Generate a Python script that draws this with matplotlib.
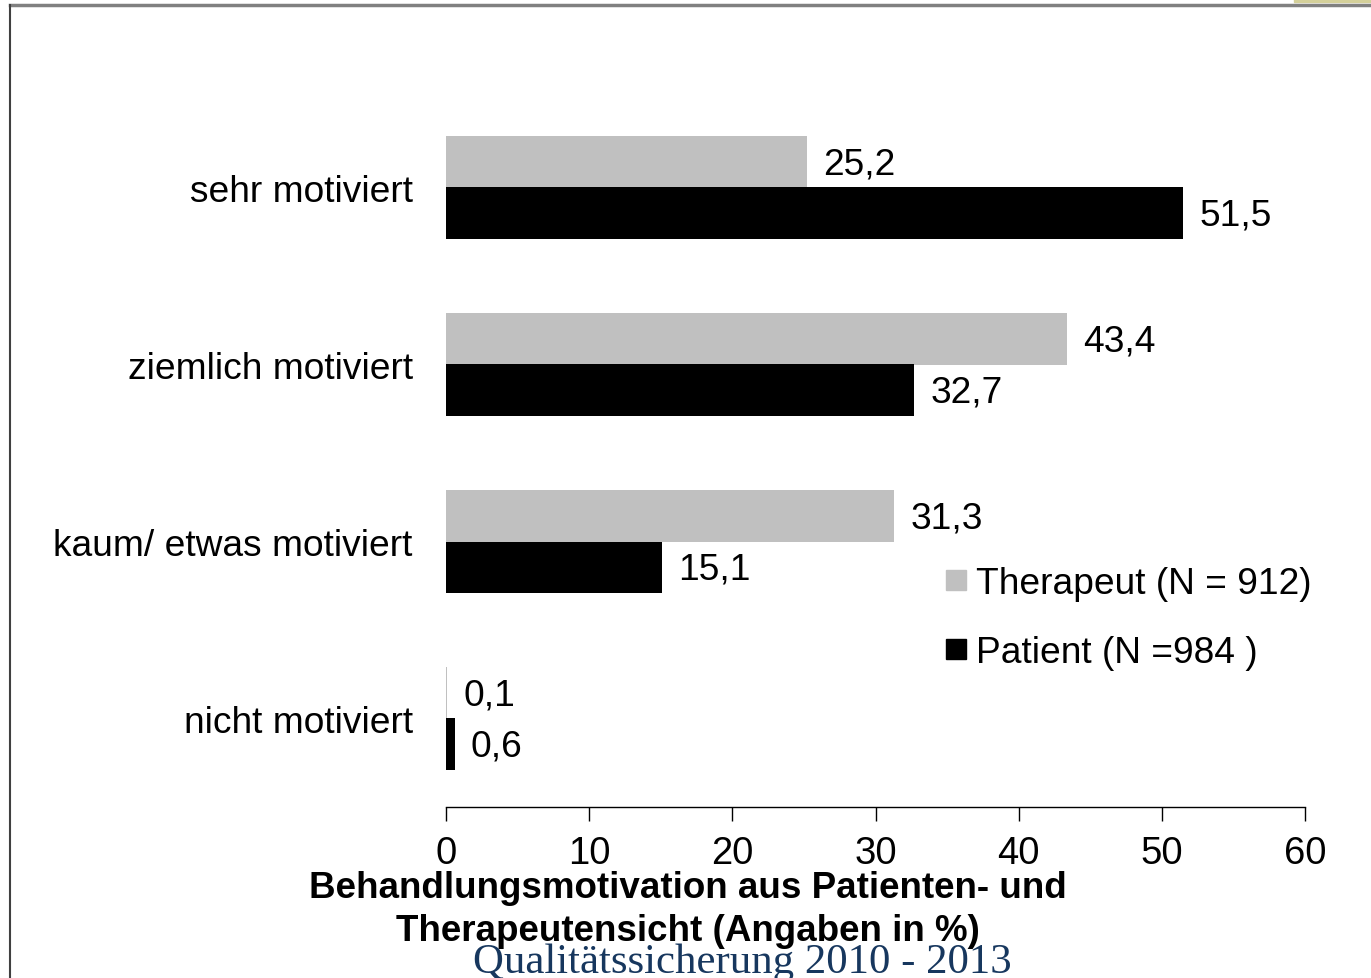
import matplotlib
matplotlib.use("Agg")
import matplotlib.pyplot as plt
from matplotlib.lines import Line2D
from matplotlib.patches import Rectangle
import numpy as np

categories = ["nicht motiviert", "kaum/ etwas motiviert", "ziemlich motiviert", "sehr motiviert"]
therapeut = [0.1, 31.3, 43.4, 25.2]
patient = [0.6, 15.1, 32.7, 51.5]
series_labels = ["Therapeut (N = 912)", "Patient (N =984 )"]
xticks = [0, 10, 20, 30, 40, 50, 60]
title = "Behandlungsmotivation aus Patienten- und\nTherapeutensicht (Angaben in %)"
footer = "Qualitätssicherung 2010 - 2013"

plt.rcParams['font.family'] = ['Liberation Sans', 'DejaVu Sans']

W, H = 1371, 979
fig = plt.figure(figsize=(W/100, H/100), dpi=100)

# slide frame
fig.add_artist(Line2D([10/W, 1], [1-6/H, 1-6/H], color="#808080", lw=2.5, transform=fig.transFigure))
fig.add_artist(Line2D([10/W, 10/W], [0, 1-6/H], color="#404040", lw=1.5, transform=fig.transFigure))
fig.add_artist(Rectangle((1294/W, 1-3/H), (W-1294)/W, 3/H, color="#D4D09A", transform=fig.transFigure))

ax = fig.add_axes([446/W, 1-808/H, (1305-446)/W, (808-100)/H])
y = np.arange(len(categories))
h = 0.29
c_t = "#C0C0C0"
c_p = "#000000"
ax.barh(y + h/2, therapeut, height=h, color=c_t, label=series_labels[0])
ax.barh(y - h/2, patient, height=h, color=c_p, label=series_labels[1])

fs = 26.7
for yi, v in zip(y, therapeut):
    ax.annotate(f"{v:.1f}".replace(".", ","), (v, yi + h/2), xytext=(16, -2),
                textcoords="offset pixels", va="center", ha="left", fontsize=fs)
for yi, v in zip(y, patient):
    ax.annotate(f"{v:.1f}".replace(".", ","), (v, yi - h/2), xytext=(16, -2),
                textcoords="offset pixels", va="center", ha="left", fontsize=fs)

ax.set_xlim(0, 60)
ax.set_ylim(-0.5, 3.5)
ax.set_xticks(xticks)
ax.set_xticklabels([str(t) for t in xticks], fontsize=27.5)
ax.set_yticks(y)
ax.set_yticklabels(categories, fontsize=fs)
ax.tick_params(axis="y", length=0, pad=24)
ax.tick_params(axis="x", length=10, width=1, direction="out", pad=10, color="#000000")
for s in ["top", "right", "left"]:
    ax.spines[s].set_visible(False)
ax.spines["bottom"].set_linewidth(1)

# legend (drawn manually for exact placement)
for (lab, col, yc) in [(series_labels[0], c_t, 581), (series_labels[1], c_p, 650)]:
    fig.add_artist(Rectangle((946/W, 1-(yc+10)/H), 20/W, 20/H, color=col, transform=fig.transFigure))
    fig.text(976/W, 1-yc/H, lab, ha="left", va="center_baseline", fontsize=fs)

fig.text(688/W, 1-871/H, title, ha="center", va="top", fontsize=26.5, fontweight="bold",
         linespacing=1.28)
fig.text(742/W, 1-963/H, footer, ha="center", va="center", fontsize=30.8,
         family=["Liberation Serif", "DejaVu Serif"], color="#17375E")

fig.savefig("out.png", dpi=100)
